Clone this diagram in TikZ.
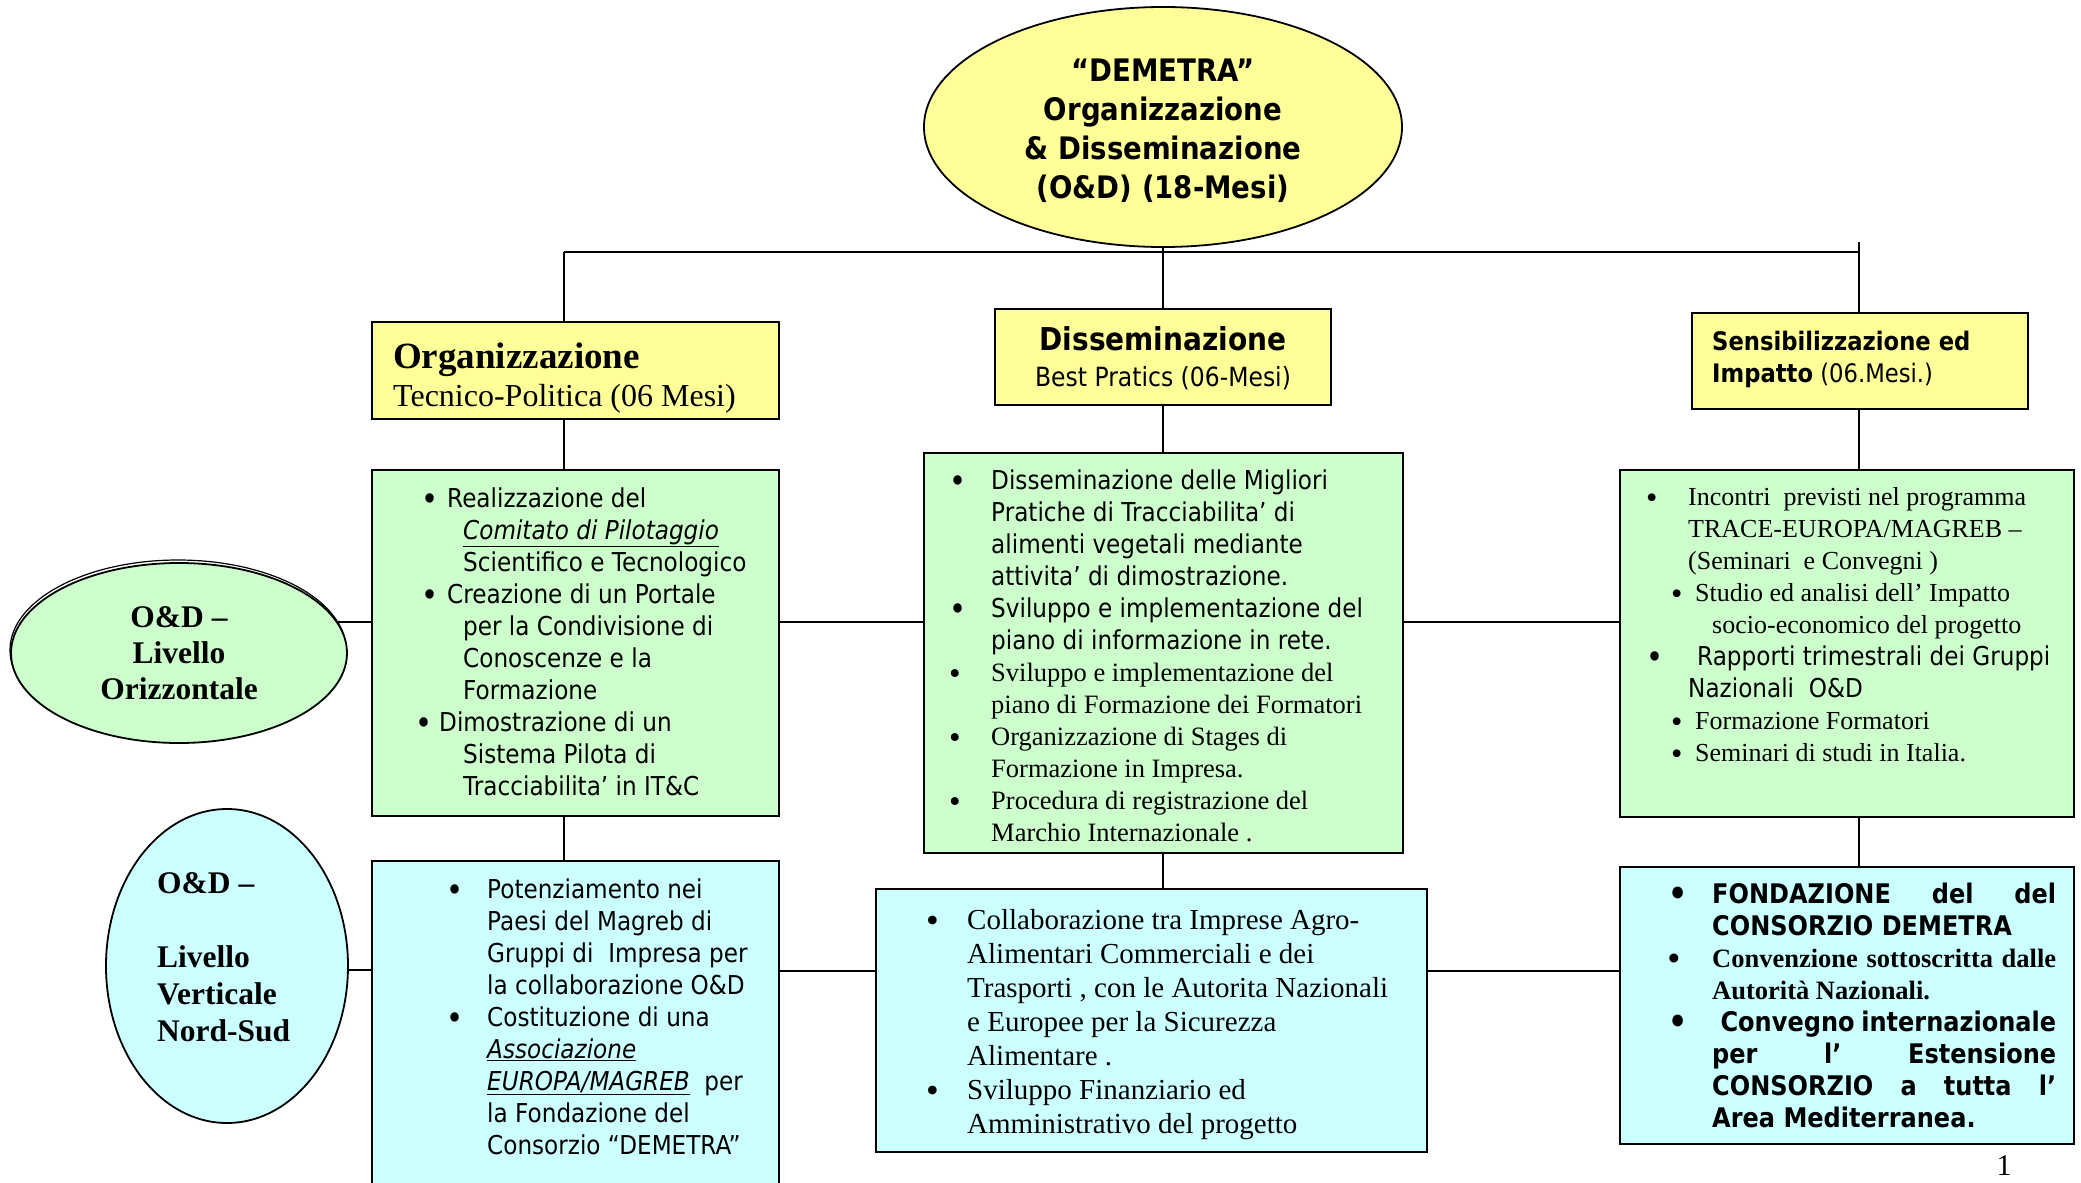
\documentclass[tikz,border=0pt]{standalone}
\usepackage{fontspec}
\usepackage{graphicx}
\usetikzlibrary{shapes.geometric}
\setmainfont{Liberation Serif}
\newfontfamily\tah[FakeStretch=0.89]{DejaVu Sans}
\newfontfamily\tms{Liberation Serif}
\definecolor{yel}{HTML}{FFFF99}
\definecolor{grn}{HTML}{CCFFCC}
\definecolor{cyn}{HTML}{CCFFFF}
\newcommand{\bu}[2]{\hspace*{#1pt}\makebox[#2pt][l]{\raisebox{-0.09em}{\scalebox{1.25}{\textbullet}}}}
\newcommand{\ind}[1]{\hspace*{#1pt}}
\newcommand{\tmsA}{\tms\fontsize{26.5}{32}\selectfont}
\begin{document}
\begin{tikzpicture}[x=1pt,y=-1pt,
  box/.style={draw=black, line width=2pt, rectangle, inner sep=0pt},
  ybox/.style={box, fill=yel},
  gbox/.style={box, fill=grn},
  cbox/.style={box, fill=cyn},
  oval/.style={ellipse, draw=black, line width=1.8pt, inner sep=0pt},
  conn/.style={draw=black, line width=1.8pt},
  txt/.style={inner sep=0pt, align=left, anchor=west},
]
\useasboundingbox (0,0) rectangle (2081,1183);
\clip (0,0) rectangle (2081,1183);
\fill[white] (0,0) rectangle (2081,1183);

% ellipses
\node[oval, fill=yel, minimum width=478pt, minimum height=240pt] (top) at (1163,127) {};
\node[inner sep=0pt, align=center,
  font={\tah\bfseries\fontsize{31}{39}\selectfont}] (topt) at (1163,131)
  {“DEMETRA”\\Organizzazione\\\& Disseminazione\\(O\&D) (18-Mesi)};
\node[oval, line width=1.2pt, minimum width=336pt, minimum height=180pt] (e1s) at (178,650) {};
\node[oval, fill=grn, minimum width=336pt, minimum height=180pt, align=center,
  font={\tms\bfseries\fontsize{31.5}{36}\selectfont}] (e1) at (179,653)
  {O\&D –\\Livello\\Orizzontale};
\node[oval, fill=cyn, minimum width=242pt, minimum height=314pt] (e2) at (227,966) {};
\node[txt, font={\tms\bfseries\fontsize{31.5}{37}\selectfont}] (e2t) at (157,957)
  {O\&D –\\[37pt]Livello\\Verticale\\Nord-Sud};

% boxes
\node[ybox, minimum width=407pt, minimum height=97pt] (org) at (575.5,370.5) {};
\node[ybox, minimum width=336pt, minimum height=96pt] (dis) at (1163,357) {};
\node[ybox, minimum width=336pt, minimum height=96pt] (sens) at (1860,361) {};
\node[gbox, minimum width=407pt, minimum height=346pt] (lg) at (575.5,643) {};
\node[gbox, minimum width=479pt, minimum height=400pt] (mg) at (1163.5,653) {};
\node[gbox, minimum width=454pt, minimum height=347pt] (rg) at (1847,643.5) {};
\node[cbox, minimum width=407pt, minimum height=339pt] (lb) at (575.5,1030.5) {};
\node[cbox, minimum width=551pt, minimum height=263pt] (mb) at (1151.5,1020.5) {};
\node[cbox, minimum width=454pt, minimum height=277pt] (rb) at (1847,1005.5) {};

% connectors
\coordinate (hl) at (564,252);
\coordinate (hr) at (1859,252);
\coordinate (tr) at (1859,242);
\coordinate (r1) at (0,622);
\coordinate (r2) at (0,971);
\draw[conn] (hl) -- (hr);
\draw[conn] (hl) -- (hl |- org.north);
\draw[conn] (tr) -- (tr |- sens.north);
\draw[conn] (top.south) -- (dis.north);
\draw[conn] (hl |- org.south) -- (hl |- lg.north);
\draw[conn] (hl |- lg.south) -- (hl |- lb.north);
\draw[conn] (dis.south) -- (dis.south |- mg.north);
\draw[conn] (dis.south |- mg.south) -- (dis.south |- mb.north);
\draw[conn] (tr |- sens.south) -- (tr |- rg.north);
\draw[conn] (tr |- rg.south) -- (tr |- rb.north);
\draw[conn] (e1.11) -- (e1.11 -| lg.west);
\draw[conn] (lg.east |- r1) -- (mg.west |- r1);
\draw[conn] (mg.east |- r1) -- (rg.west |- r1);
\draw[conn] (e2.-2) -- (e2.-2 -| lb.west);
\draw[conn] (lb.east |- r2) -- (mb.west |- r2);
\draw[conn] (mb.east |- r2) -- (rb.west |- r2);

% header texts
\node[txt, font={\tms\fontsize{32}{38}\selectfont}] (orgt) at (393,378)
  {{\fontsize{37}{38}\selectfont\bfseries Organizzazione}\\Tecnico-Politica (06 Mesi)};
\node[inner sep=0pt, align=center, font={\tah\fontsize{26.4}{36}\selectfont}] (dist) at (1163,358)
  {{\fontsize{31.5}{36}\selectfont\bfseries Disseminazione}\\Best Pratics (06-Mesi)};
\node[txt, font={\tah\fontsize{25.5}{32}\selectfont}] (senst) at (1712,359)
  {\textbf{Sensibilizzazione ed}\\\textbf{Impatto} (06.Mesi.)};

% green texts
\node[txt, font={\tah\fontsize{26}{32}\selectfont}] (lgt) at (412,642)
  {\bu{9}{26}Realizzazione del\\
   \ind{51}\underline{\textit{Comitato di Pilotaggio}}\\
   \ind{51}Scientifico e Tecnologico\\
   \bu{9}{26}Creazione di un Portale\\
   \ind{51}per la Condivisione di\\
   \ind{51}Conoscenze e la\\
   \ind{51}Formazione\\
   \bu{3}{24}Dimostrazione di un\\
   \ind{51}Sistema Pilota di\\
   \ind{51}Tracciabilita’ in IT\&C};
\node[txt, font={\tah\fontsize{26}{32}\selectfont}] (mgt) at (943,656)
  {\bu{6}{42}Disseminazione delle Migliori\\
   \ind{48}Pratiche di Tracciabilita’ di\\
   \ind{48}alimenti vegetali mediante\\
   \ind{48}attivita’ di dimostrazione.\\
   \bu{6}{42}Sviluppo e implementazione del\\
   \ind{48}piano di informazione in rete.\\
   {\tmsA\bu{6}{42}Sviluppo e implementazione del}\\
   {\tmsA\ind{48}piano di Formazione dei Formatori}\\
   {\tmsA\bu{6}{42}Organizzazione di Stages di}\\
   {\tmsA\ind{48}Formazione in Impresa.}\\
   {\tmsA\bu{6}{42}Procedura di registrazione del}\\
   {\tmsA\ind{48}Marchio Internazionale .}};
\node[txt, font={\tms\fontsize{26}{32}\selectfont}] (rgt) at (1640,626)
  {\bu{6}{42}Incontri\ \ previsti nel programma\\
   \ind{48}TRACE-EUROPA/MAGREB –\\
   \ind{48}(Seminari\ \ e Convegni )\\
   \bu{31}{24}Studio ed analisi dell’ Impatto\\
   \ind{72}socio-economico del progetto\\
   {\tah\bu{6}{51}Rapporti trimestrali dei Gruppi}\\
   {\tah\ind{48}Nazionali\ \ O\&D}\\
   \bu{31}{24}Formazione Formatori\\
   \bu{31}{24}Seminari di studi in Italia.};

% blue texts
\node[txt, font={\tah\fontsize{26}{32}\selectfont}] (lbt) at (440,1017)
  {\bu{6}{41}Potenziamento nei\\
   \ind{47}Paesi del Magreb di\\
   \ind{47}Gruppi di\ \ Impresa per\\
   \ind{47}la collaborazione O\&D\\
   \bu{6}{41}Costituzione di una\\
   \ind{47}\underline{\textit{Associazione}}\\
   \ind{47}\underline{\textit{EUROPA/MAGREB}}\ \ per\\
   \ind{47}la Fondazione del\\
   \ind{47}Consorzio “DEMETRA”};
\node[txt, font={\tms\fontsize{29}{34}\selectfont}] (mbt) at (920,1025)
  {\bu{6}{41}Collaborazione tra Imprese Agro-\\
   \ind{47}Alimentari Commerciali e dei\\
   \ind{47}Trasporti , con le Autorita Nazionali\\
   \ind{47}e Europee per la Sicurezza\\
   \ind{47}Alimentare .\\
   \bu{6}{41}Sviluppo Finanziario ed\\
   \ind{47}Amministrativo del progetto};
\node[txt, font={\tah\bfseries\fontsize{27}{32}\selectfont}] (rbt) at (1662,1005)
  {\bu{6}{44}\makebox[344pt][s]{FONDAZIONE\hfill del\hfill del}\\
   \ind{50}CONSORZIO DEMETRA\\
   {\tms\fontsize{26.5}{32}\selectfont\bu{6}{44}\makebox[344pt][s]{Convenzione\hfill sottoscritta\hfill dalle}}\\
   {\tms\fontsize{26.5}{32}\selectfont\ind{50}Autorità Nazionali.}\\
   \bu{6}{44}\makebox[344pt][s]{\ Convegno\hfill internazionale}\\
   \ind{50}\makebox[344pt][s]{per\hfill l’\hfill Estensione}\\
   \ind{50}\makebox[344pt][s]{CONSORZIO\hfill a\hfill tutta\hfill l’}\\
   \ind{50}Area Mediterranea.};

\node[inner sep=0pt, font={\tms\fontsize{30}{30}\selectfont}] (pg) at (2004,1166) {1};
\end{tikzpicture}
\end{document}
